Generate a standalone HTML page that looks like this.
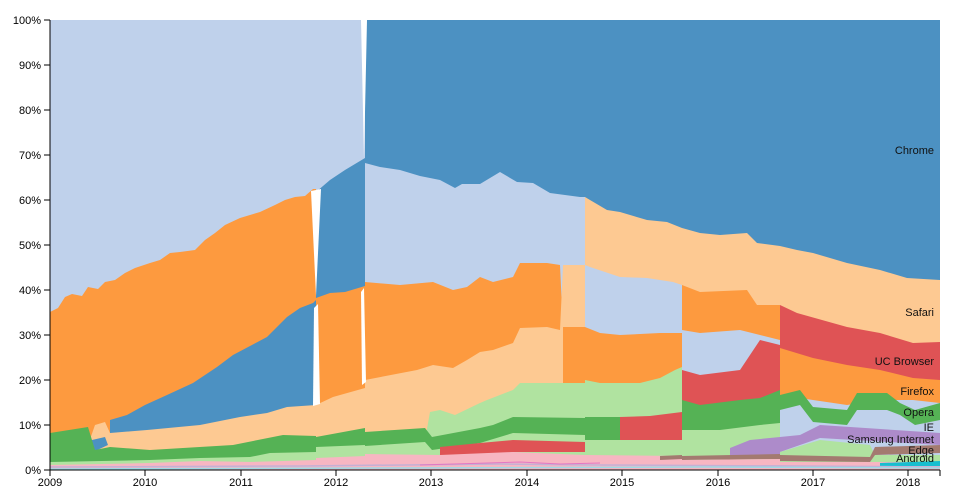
<!DOCTYPE html>
<html><head><meta charset="utf-8"><style>
html,body{margin:0;padding:0;background:#fff;}
svg{display:block;font-family:"Liberation Sans",sans-serif;}
</style></head><body>
<svg width="960" height="500" viewBox="0 0 960 500" xmlns="http://www.w3.org/2000/svg">
<defs>
<clipPath id="cA"><rect x="50" y="20" width="266" height="450"/></clipPath>
<clipPath id="cB"><rect x="316" y="20" width="49" height="450"/></clipPath>
<clipPath id="cC"><rect x="365" y="20" width="220" height="450"/></clipPath>
<clipPath id="cD1"><rect x="585" y="20" width="97" height="450"/></clipPath>
<clipPath id="cD2"><rect x="682" y="20" width="98" height="450"/></clipPath>
<clipPath id="cD3"><rect x="780" y="20" width="160" height="450"/></clipPath>
</defs>

<g clip-path="url(#cA)">
<rect x="50" y="20" width="266" height="450" fill="#bfd1eb"/>
<polygon fill="#fd9a3f" points="50,312 58,308 65,297 72,294 82,296 88,287 98,289 105,282 115,280 125,273 135,268 150,263 160,260 170,253 180,252 195,250 205,240 215,233 225,225 240,218 260,212 275,205 285,200 295,197 305,196 313,189 316,189 316,470 50,470"/>
<polygon fill="#4c91c2" points="110,420 127,415 145,405 167,395 193,383 217,367 233,355 267,337 287,317 300,308 313,303 316,300 316,470 110,470"/>
<polygon fill="#fdc992" points="50,450 88,445 95,425 105,422 110,433 147,430 200,425 240,417 267,413 287,407 316,405 316,470 50,470"/>
<polygon fill="#4c91c2" points="50,456 85,453 92,440 105,437 108,445 93,452 90,458 50,462"/>
<polygon fill="#55b255" points="50,433 88,427 95,450 110,447 150,450 183,448 233,445 283,435 316,436 316,470 50,470"/>
<polygon fill="#b0e3a0" points="50,462 150,460 200,458 250,457 270,453 316,452 316,470 50,470"/>
<polygon fill="#f7b6c2" points="50,465 150,463 200,461 250,462 316,460 316,470 50,470"/>
</g>

<g clip-path="url(#cB)">
<rect x="316" y="20" width="49" height="450" fill="#bfd1eb"/>
<polygon fill="#4c91c2" points="316,192 330,180 345,170 365,158 365,470 316,470"/>
<polygon fill="#fd9a3f" points="316,298 330,293 345,292 365,286 365,470 316,470"/>
<polygon fill="#fdc992" points="316,405 333,397 365,388 365,470 316,470"/>
<polygon fill="#55b255" points="316,437 365,428 365,470 316,470"/>
<polygon fill="#b0e3a0" points="316,447 365,445 365,470 316,470"/>
<polygon fill="#f7b6c2" points="316,458 365,456 365,470 316,470"/>
</g>

<g clip-path="url(#cC)">
<rect x="365" y="20" width="220" height="450" fill="#4c91c2"/>
<polygon fill="#bfd1eb" points="365,163 380,167 400,170 420,176 440,180 455,188 462,184 480,184 500,172 517,182 533,183 550,193 580,197 585,197 585,470 365,470"/>
<polygon fill="#fd9a3f" points="365,282 400,285 433,282 453,290 467,287 480,277 493,282 513,277 520,263 547,263 560,265 563,330 585,330 585,470 365,470"/>
<polygon fill="#fdc992" points="365,380 417,370 433,365 453,368 467,360 480,352 493,350 513,343 520,328 547,327 560,330 563,265 585,265 585,470 365,470"/>
<polygon fill="#fd9a3f" points="563,327 585,327 585,470 563,470"/>
<polygon fill="#b0e3a0" points="365,441 425,440 430,412 440,410 455,415 480,403 487,400 513,390 520,383 585,383 585,470 365,470"/>
<polygon fill="#55b255" points="365,432 425,428 432,437 480,428 493,425 513,417 585,418 585,435 513,433 480,443 432,450 425,442 365,446"/>
<polygon fill="#df5355" points="440,447 480,443 513,440 585,442 585,452 513,452 480,455 440,455"/>
<polygon fill="#f7b6c2" points="365,454 440,455 513,452 585,455 585,470 365,470"/>
</g>

<g clip-path="url(#cD1)">
<rect x="585" y="20" width="97" height="450" fill="#4c91c2"/>
<polygon fill="#fdc992" points="585,197 590,200 607,210 620,212 647,220 667,222 682,228 682,470 585,470"/>
<polygon fill="#bfd1eb" points="585,265 590,267 620,277 647,278 673,282 682,285 682,470 585,470"/>
<polygon fill="#fd9a3f" points="585,327 600,333 620,335 660,333 682,333 682,470 585,470"/>
<polygon fill="#b0e3a0" points="585,380 600,383 640,383 660,378 675,370 682,367 682,470 585,470"/>
<polygon fill="#55b255" points="585,417 620,417 620,440 585,440"/>
<polygon fill="#df5355" points="620,417 650,416 682,412 682,440 620,440"/>
<polygon fill="#f7b6c2" points="585,455 682,456 682,470 585,470"/>
<polygon fill="#a37a70" points="660,456 682,455 682,459 660,460"/>
</g>

<g clip-path="url(#cD2)">
<rect x="682" y="20" width="98" height="450" fill="#4c91c2"/>
<polygon fill="#fdc992" points="682,228 700,233 720,235 747,233 757,243 780,246 780,470 682,470"/>
<polygon fill="#fd9a3f" points="682,285 700,292 747,290 757,305 780,305 780,470 682,470"/>
<polygon fill="#bfd1eb" points="682,330 700,333 740,330 780,340 780,470 682,470"/>
<polygon fill="#df5355" points="682,370 700,375 740,370 760,340 780,345 780,470 682,470"/>
<polygon fill="#55b255" points="682,400 700,405 740,400 760,398 780,390 780,470 682,470"/>
<polygon fill="#b0e3a0" points="682,430 720,430 760,425 780,423 780,470 682,470"/>
<polygon fill="#ad8bca" points="730,448 750,440 780,437 780,455 730,456"/>
<polygon fill="#a37a70" points="682,456 780,454 780,459 682,460"/>
<polygon fill="#f7b6c2" points="682,460 780,459 780,470 682,470"/>
</g>

<g clip-path="url(#cD3)">
<rect x="780" y="20" width="160" height="450" fill="#4c91c2"/>
<polygon fill="#fdc992" points="780,246 797,250 813,253 847,263 880,270 907,278 940,280 940,470 780,470"/>
<polygon fill="#df5355" points="780,305 797,313 847,327 880,333 913,343 940,342 940,470 780,470"/>
<polygon fill="#fd9a3f" points="780,348 813,358 847,365 880,370 913,378 940,380 940,470 780,470"/>
<polygon fill="#bfd1eb" points="780,395 813,400 847,405 880,400 913,400 940,403 940,470 780,470"/>
<polygon fill="#55b255" points="780,395 800,390 813,407 847,410 857,393 887,393 900,403 915,410 940,403 940,420 915,425 900,415 887,410 857,410 847,425 813,422 800,405 780,410"/>
<polygon fill="#ad8bca" points="780,437 800,435 820,425 940,433 940,445 820,438 780,452"/>
<polygon fill="#b0e3a0" points="780,452 820,440 870,445 875,455 940,455 940,470 780,470"/>
<polygon fill="#a37a70" points="780,455 870,457 875,447 940,445 940,453 875,455 870,462 780,461"/>
<polygon fill="#f7b6c2" points="780,462 940,462 940,470 780,470"/>
<polygon fill="#17becf" points="880,463 940,461 940,466 880,466"/>
</g>

<!-- white crossover wedges -->
<polygon fill="#fff" points="311,191 321,189 316,296"/>
<polygon fill="#fff" points="314,308 318,304 320,404 313,406"/>
<polygon fill="#fff" points="361,20 367,20 364,158"/>
<polygon fill="#fff" points="361,292 364,288 366,382 362,385"/>

<polyline fill="none" stroke="#c5b0d5" stroke-width="1.5" points="50,467 300,466 500,464 600,465 800,466 940,467"/>
<polyline fill="none" stroke="#9edae5" stroke-width="1.5" points="50,469 400,468 700,467 940,468"/>
<polyline fill="none" stroke="#e377c2" stroke-width="1" points="420,465 520,462 560,464 600,463"/>

<g stroke="#000" stroke-width="1" fill="none" shape-rendering="crispEdges">
<line x1="50" y1="20" x2="50" y2="470"/>
<line x1="50" y1="470" x2="940" y2="470"/>
<line x1="44" y1="20" x2="50" y2="20"/><line x1="44" y1="65" x2="50" y2="65"/><line x1="44" y1="110" x2="50" y2="110"/>
<line x1="44" y1="155" x2="50" y2="155"/><line x1="44" y1="200" x2="50" y2="200"/><line x1="44" y1="245" x2="50" y2="245"/>
<line x1="44" y1="290" x2="50" y2="290"/><line x1="44" y1="335" x2="50" y2="335"/><line x1="44" y1="380" x2="50" y2="380"/>
<line x1="44" y1="425" x2="50" y2="425"/><line x1="44" y1="470" x2="50" y2="470"/>
<line x1="50" y1="470" x2="50" y2="476"/><line x1="145" y1="470" x2="145" y2="476"/><line x1="241" y1="470" x2="241" y2="476"/>
<line x1="336" y1="470" x2="336" y2="476"/><line x1="431" y1="470" x2="431" y2="476"/><line x1="527" y1="470" x2="527" y2="476"/>
<line x1="622" y1="470" x2="622" y2="476"/><line x1="718" y1="470" x2="718" y2="476"/><line x1="813" y1="470" x2="813" y2="476"/>
<line x1="908" y1="470" x2="908" y2="476"/><line x1="940" y1="470" x2="940" y2="476"/>
</g>
<g font-size="11" fill="#000" text-anchor="end">
<text x="41" y="24">100%</text><text x="41" y="69">90%</text><text x="41" y="114">80%</text><text x="41" y="159">70%</text>
<text x="41" y="204">60%</text><text x="41" y="249">50%</text><text x="41" y="294">40%</text><text x="41" y="339">30%</text>
<text x="41" y="384">20%</text><text x="41" y="429">10%</text><text x="41" y="474">0%</text>
</g>
<g font-size="11" fill="#000" text-anchor="middle">
<text x="50" y="486">2009</text><text x="145" y="486">2010</text><text x="241" y="486">2011</text><text x="336" y="486">2012</text>
<text x="431" y="486">2013</text><text x="527" y="486">2014</text><text x="622" y="486">2015</text><text x="718" y="486">2016</text>
<text x="813" y="486">2017</text><text x="908" y="486">2018</text>
</g>
<g font-size="11" fill="#111" text-anchor="end">
<text x="934" y="154">Chrome</text>
<text x="934" y="316">Safari</text>
<text x="934" y="365">UC Browser</text>
<text x="934" y="395">Firefox</text>
<text x="934" y="416">Opera</text>
<text x="934" y="431">IE</text>
<text x="934" y="443">Samsung Internet</text>
<text x="934" y="454">Edge</text>
<text x="934" y="462">Android</text>
</g>
</svg>
</body></html>
